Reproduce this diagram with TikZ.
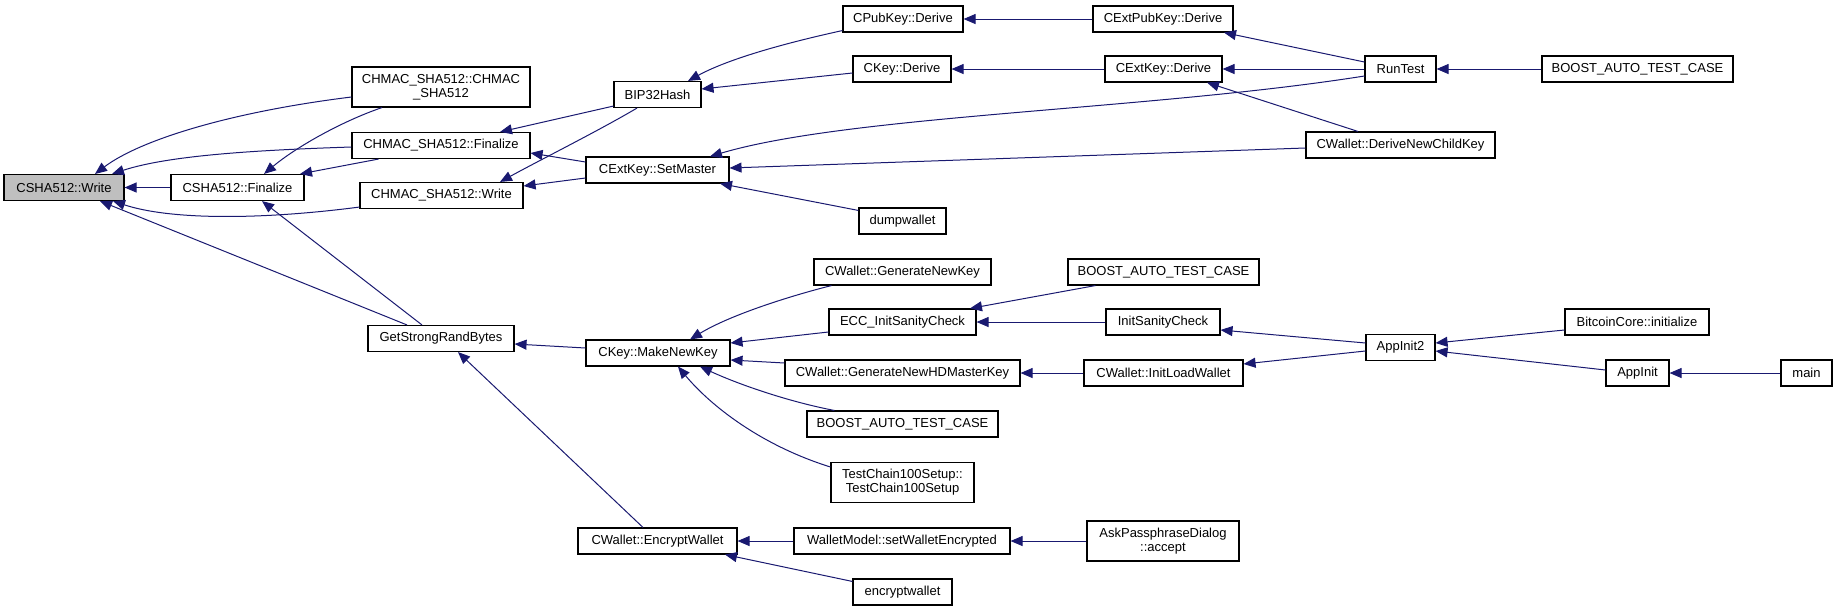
\documentclass[tikz,border=0pt]{standalone}
\usepackage{fontspec}
\setmainfont{Liberation Sans}
\usetikzlibrary{arrows.meta,calc}
\definecolor{edgeblue}{RGB}{25,25,112}
\definecolor{rootgray}{RGB}{191,191,191}
\tikzset{
  box/.style={draw=black, line width=1.1pt, fill=white, inner sep=0pt, minimum height=26pt, align=center,
              font=\fontsize{13}{14}\selectfont},
  tall/.style={minimum height=40pt},
  edge/.style={draw=edgeblue, line width=1pt, -{Triangle[length=12pt,width=10pt]}}
}
\begin{document}
\begin{tikzpicture}[x=1pt,y=-1pt]
\useasboundingbox (0,0) rectangle (1837,611);
% column 1
\node[box, fill=rootgray, minimum width=120pt] (w) at (64,187.5) {CSHA512::Write};
% column 2
\node[box, minimum width=133pt] (f) at (237.5,187.5) {CSHA512::Finalize};
% column 3
\node[box, tall, minimum width=178pt] (hc) at (441,87) {CHMAC\_SHA512::CHMAC\\\_SHA512};
\node[box, minimum width=178pt] (hf) at (441,145.5) {CHMAC\_SHA512::Finalize};
\node[box, minimum width=163pt] (hw) at (441.5,195.5) {CHMAC\_SHA512::Write};
\node[box, minimum width=146pt] (g) at (441,338.5) {GetStrongRandBytes};
% column 4
\node[box, minimum width=87pt] (bip) at (657.5,94.5) {BIP32Hash};
\node[box, minimum width=143pt] (sm) at (657.5,170) {CExtKey::SetMaster};
\node[box, minimum width=144pt] (mk) at (658,353) {CKey::MakeNewKey};
\node[box, minimum width=159pt] (ew) at (657.5,541) {CWallet::EncryptWallet};
% column 5
\node[box, minimum width=120pt] (pd) at (903,19) {CPubKey::Derive};
\node[box, minimum width=98pt] (kd) at (902,69) {CKey::Derive};
\node[box, minimum width=87pt] (dw) at (902.5,221) {dumpwallet};
\node[box, minimum width=177pt] (gnk) at (902.5,272) {CWallet::GenerateNewKey};
\node[box, minimum width=147pt] (ecc) at (902.5,322) {ECC\_InitSanityCheck};
\node[box, minimum width=235pt] (hd) at (902.5,373) {CWallet::GenerateNewHDMasterKey};
\node[box, minimum width=191pt] (bt3) at (902.5,424) {BOOST\_AUTO\_TEST\_CASE};
\node[box, tall, minimum width=143pt] (tc) at (902.5,482.5) {TestChain100Setup::\\TestChain100Setup};
\node[box, minimum width=216pt] (wm) at (902,541) {WalletModel::setWalletEncrypted};
\node[box, minimum width=99pt] (enc) at (902.5,592) {encryptwallet};
% column 6
\node[box, minimum width=140pt] (epd) at (1163,19) {CExtPubKey::Derive};
\node[box, minimum width=117pt] (ekd) at (1163.5,69) {CExtKey::Derive};
\node[box, minimum width=191pt] (bt2) at (1163.5,272) {BOOST\_AUTO\_TEST\_CASE};
\node[box, minimum width=114pt] (isc) at (1163,322) {InitSanityCheck};
\node[box, minimum width=159pt] (ilw) at (1163.5,373) {CWallet::InitLoadWallet};
\node[box, tall, minimum width=152pt] (ask) at (1163,541) {AskPassphraseDialog\\::accept};
% column 7
\node[box, minimum width=71pt] (rt) at (1400.5,69) {RunTest};
\node[box, minimum width=189pt] (dnck) at (1400.5,145) {CWallet::DeriveNewChildKey};
\node[box, minimum width=69pt] (ai2) at (1400.5,347.5) {AppInit2};
% column 8
\node[box, minimum width=191pt] (bt1) at (1637.5,69) {BOOST\_AUTO\_TEST\_CASE};
\node[box, minimum width=144pt] (bc) at (1637,322) {BitcoinCore::initialize};
\node[box, minimum width=63pt] (ai) at (1637.5,373) {AppInit};
% column 9
\node[box, minimum width=51pt] (mn) at (1806.5,373) {main};

% edges into CSHA512::Write
\draw[edge] (f.west) -- (w.east);
\draw[edge] ($(hc.west)+(0,10)$) .. controls (230,112) and (140,140) .. ($(w.north)+(31,0)$);
\draw[edge] ($(hf.west)+(0,1.5)$) .. controls (260,150) and (170,155) .. ($(w.north)+(48,0)$);
\draw[edge] ($(hw.south west)+(0,-2)$) .. controls (260,220) and (170,220) .. ($(w.south)+(49,0)$);
\draw[edge] ($(g.north)+(-34,0)$) -- ($(w.south)+(36,0)$);
% edges into CSHA512::Finalize
\draw[edge] ($(hc.south)+(-59,0)$) .. controls (340,122) and (295,148) .. ($(f.north)+(26.5,0)$);
\draw[edge] ($(hf.south)+(-62.5,0)$) -- ($(f.north)+(62.5,0)$);
\draw[edge] ($(g.north)+(-19,0)$) -- ($(f.south)+(24.5,0)$);
% edges into CHMAC nodes
\draw[edge] ($(bip.south west)+(0,-2)$) -- ($(hf.north)+(59,0)$);
\draw[edge] ($(bip.south)+(-20.5,0)$) .. controls (600,130) and (540,160) .. ($(hw.north)+(58.5,0)$);
\draw[edge] ($(sm.west)+(0,-8)$) -- ($(hf.east)+(0,7.5)$);
\draw[edge] ($(sm.west)+(0,8)$) -- ($(hw.east)+(0,-9.5)$);
% edges into BIP32Hash
\draw[edge] ($(pd.south west)+(0,-2)$) .. controls (790,42) and (730,58) .. ($(bip.north)+(30.5,0)$);
\draw[edge] ($(kd.west)+(0,4)$) -- ($(bip.east)+(0,-5.5)$);
\draw[edge] (epd.west) -- (pd.east);
\draw[edge] (ekd.west) -- (kd.east);
% RunTest
\draw[edge] ($(rt.west)+(0,-7)$) -- ($(epd.south)+(61,0)$);
\draw[edge] (rt.west) -- (ekd.east);
\draw[edge] ($(rt.west)+(0,7)$) .. controls (1150,110) and (850,115) .. ($(sm.north)+(52.5,0)$);
\draw[edge] (bt1.west) -- (rt.east);
% DeriveNewChildKey
\draw[edge] ($(dnck.north)+(-42.5,0)$) -- ($(ekd.south)+(43.5,0)$);
\draw[edge] ($(dnck.west)+(0,3)$) -- ($(sm.east)+(0,-2)$);
\draw[edge] ($(dw.north west)+(0,3)$) -- ($(sm.south)+(62.5,0)$);
% GetStrongRandBytes callers
\draw[edge] ($(mk.west)+(0,-5)$) -- ($(g.east)+(0,5.5)$);
\draw[edge] ($(ew.north)+(-14.5,0)$) -- ($(g.south)+(17,0)$);
% MakeNewKey callers
\draw[edge] ($(gnk.south west)+(18,0)$) .. controls (790,296) and (730,315) .. ($(mk.north)+(32,0)$);
\draw[edge] ($(ecc.west)+(0,10)$) -- ($(mk.east)+(0,-10)$);
\draw[edge] ($(hd.west)+(0,-10)$) -- ($(mk.east)+(0,7)$);
\draw[edge] ($(bt3.north west)+(28,0)$) .. controls (790,402) and (740,385) .. ($(mk.south)+(42,0)$);
\draw[edge] ($(tc.west)+(0,-15.5)$) .. controls (760,445) and (710,405) .. ($(mk.south)+(20,0)$);
% ECC / init chain
\draw[edge] ($(bt2.south west)+(28,0)$) -- ($(ecc.north)+(67.5,0)$);
\draw[edge] (isc.west) -- (ecc.east);
\draw[edge] ($(ai2.west)+(0,-4.5)$) -- ($(isc.east)+(0,8)$);
\draw[edge] (ilw.west) -- (hd.east);
\draw[edge] ($(ai2.west)+(0,3.5)$) -- ($(ilw.east)+(0,-9)$);
\draw[edge] ($(bc.west)+(0,8)$) -- ($(ai2.east)+(0,-4.5)$);
\draw[edge] ($(ai.west)+(0,-3)$) -- ($(ai2.east)+(0,3.5)$);
\draw[edge] (mn.west) -- (ai.east);
% EncryptWallet callers
\draw[edge] (wm.west) -- (ew.east);
\draw[edge] (ask.west) -- (wm.east);
\draw[edge] ($(enc.north west)+(0,3)$) -- ($(ew.south)+(67.5,0)$);
\end{tikzpicture}
\end{document}
